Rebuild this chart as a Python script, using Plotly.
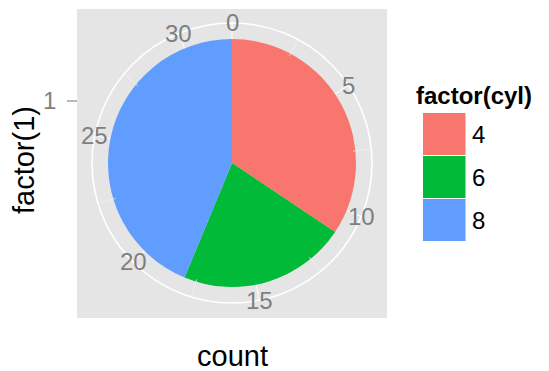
import math
import plotly.graph_objects as go

# ---- data ----
cyl_levels = ["4", "6", "8"]
cyl_counts = [11, 7, 14]
cyl_colors = ["#F8766D", "#00BA38", "#619CFF"]
theta_ticks = [0, 5, 10, 15, 20, 25, 30]
theta_minor = [2.5, 7.5, 12.5, 17.5, 22.5, 27.5]
x_category = "1"
bar_width = 0.9   # ggplot default bar width on the discrete axis

W, H = 549, 371
FONT = "Liberation Sans, Arial, sans-serif"

total = sum(cyl_counts)
deg = lambda c: c * 360.0 / total

# geometry (pixels)
cx, cy = 232, 163          # centre of polar panel
R_out = 140                # outer grid circle radius
R_pie = 124                # pie radius
r_max = bar_width * R_out / R_pie

fig = go.Figure()

# minor theta grid spokes (outside pie)
for m in theta_minor:
    fig.add_trace(go.Scatterpolar(
        r=[bar_width * 0.98, r_max], theta=[deg(m), deg(m)], mode="lines",
        line=dict(color="#F4F4F4", width=0.7), showlegend=False, hoverinfo="skip"))

start = 0
for lvl, cnt, col in zip(cyl_levels, cyl_counts, cyl_colors):
    fig.add_trace(go.Barpolar(
        r=[bar_width], theta=[deg(start + cnt / 2)], width=[deg(cnt)],
        marker=dict(color=col, line=dict(width=0)), name=lvl, showlegend=False))
    start += cnt

fig.update_layout(
    width=W, height=H,
    margin=dict(l=0, r=0, t=0, b=0),
    paper_bgcolor="white",
    font=dict(family=FONT),
    polar=dict(
        domain=dict(x=[(cx - R_out) / W, (cx + R_out) / W],
                    y=[(H - cy - R_out) / H, (H - cy + R_out) / H]),
        bgcolor="rgba(0,0,0,0)",
        bargap=0,
        radialaxis=dict(range=[0, r_max], visible=False),
        angularaxis=dict(
            thetaunit="degrees", rotation=90, direction="clockwise",
            tickmode="array", tickvals=[deg(t) for t in theta_ticks],
            showticklabels=False, ticks="",
            showgrid=True, gridcolor="white", gridwidth=1,
            showline=True, linecolor="white", linewidth=1.6),
    ),
)

shapes = []
# panel background
shapes.append(dict(type="rect", xref="paper", yref="paper",
                   x0=77 / W, x1=387 / W, y0=(H - 318) / H, y1=(H - 9) / H,
                   fillcolor="#E5E5E5", line=dict(width=0), layer="below"))

annotations = []
# theta tick labels, centred on the outer circle
for t in theta_ticks:
    a = math.radians(deg(t))
    px = cx + R_out * math.sin(a)
    py = cy - R_out * math.cos(a)
    annotations.append(dict(x=px / W, y=(H - py) / H, xref="paper", yref="paper",
                            text=str(t), showarrow=False, xanchor="center", yanchor="middle",
                            font=dict(size=24, color="#7F7F7F", family=FONT)))

# radial axis tick "1" on the left
r_one = bar_width / 2  # category centre measured from pie centre
y_one = cy - r_one / r_max * R_out
shapes.append(dict(type="line", xref="paper", yref="paper",
                   x0=67 / W, x1=77 / W, y0=(H - y_one) / H, y1=(H - y_one) / H,
                   line=dict(color="#7F7F7F", width=1.1)))
annotations.append(dict(x=58 / W, y=(H - y_one) / H, xref="paper", yref="paper",
                        text=x_category, showarrow=False, xanchor="right", yanchor="middle",
                        font=dict(size=24, color="#7F7F7F", family=FONT)))

# axis titles
annotations.append(dict(x=24 / W, y=(H - 160) / H, xref="paper", yref="paper",
                        text="factor(1)", textangle=-90, showarrow=False,
                        xanchor="center", yanchor="middle",
                        font=dict(size=29, color="black", family=FONT)))
annotations.append(dict(x=232 / W, y=(H - 356) / H, xref="paper", yref="paper",
                        text="count", showarrow=False, xanchor="center", yanchor="middle",
                        font=dict(size=29, color="black", family=FONT)))

# legend (drawn manually to match ggplot's large keys)
annotations.append(dict(x=414 / W, y=(H - 96) / H, xref="paper", yref="paper",
                        text="<b>factor(cyl)</b>", showarrow=False,
                        xanchor="left", yanchor="middle",
                        font=dict(size=24, color="black", family=FONT)))
key_top, key_h = 112.5, 43
for i, (lvl, col) in enumerate(zip(cyl_levels, cyl_colors)):
    y0 = key_top + i * key_h
    shapes.append(dict(type="rect", xref="paper", yref="paper",
                       x0=422.5 / W, x1=466 / W, y0=(H - y0 - key_h) / H, y1=(H - y0) / H,
                       fillcolor=col, line=dict(color="white", width=1)))
    annotations.append(dict(x=470 / W, y=(H - y0 - key_h / 2) / H, xref="paper", yref="paper",
                            text=lvl, showarrow=False, xanchor="left", yanchor="middle",
                            font=dict(size=24, color="black", family=FONT)))

fig.update_layout(shapes=shapes, annotations=annotations)
fig.write_html("out.html", config={"displayModeBar": False},
               post_script="document.body.style.margin='0px';document.body.style.overflow='hidden';")
